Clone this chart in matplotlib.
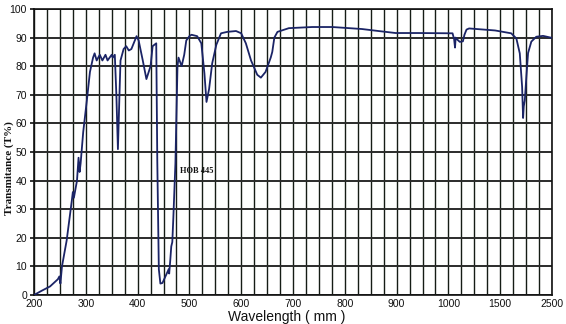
import numpy as np
import matplotlib
matplotlib.use("Agg")
import matplotlib.pyplot as plt
from matplotlib.ticker import FixedLocator, NullFormatter

# Transmittance spectrum of filter glass HOB 445
wavelength = [200, 215, 231, 246, 249, 251, 254, 263, 273, 275, 277, 283,
              286, 288, 290, 295, 302, 308, 314, 317, 321, 327, 332, 338,
              342, 350, 352, 356, 359, 362, 365, 367, 373, 378, 383, 388,
              398, 402, 410, 417, 425, 429, 436, 438, 441, 444, 448, 455,
              460, 461, 463, 465, 467, 469, 473, 477, 479, 485, 490, 494,
              500, 504, 515, 523, 529, 533, 538, 544, 552, 561, 573, 590,
              600, 609, 619, 631, 638, 647, 657, 660, 664, 670, 692, 737,
              776, 833, 865, 898, 942, 1040, 1055, 1064, 1070, 1080, 1110,
              1140, 1155, 1175, 1200, 1450, 1712, 1812, 1878, 1923, 1942,
              1955, 1975, 2004, 2038, 2101, 2197, 2327, 2500]
transmittance = [0.0, 1.5, 3.0, 5.5, 6.5, 4.0, 10.0, 19.0, 33.0, 36.0, 34.0, 40.0,
                 48.0, 43.0, 46.0, 57.0, 68.0, 78.0, 83.0, 84.5, 82.0, 84.0, 82.0, 84.0,
                 82.0, 84.0, 83.0, 84.0, 70.0, 51.0, 70.0, 82.0, 86.0, 87.0, 85.5, 86.0,
                 90.5, 89.0, 82.0, 75.5, 80.0, 87.0, 88.0, 47.0, 9.0, 4.0, 4.2, 7.0,
                 9.0, 7.5, 12.0, 17.0, 18.5, 27.0, 46.0, 80.0, 83.0, 80.0, 84.0, 89.0,
                 90.5, 91.0, 90.5, 88.0, 77.5, 67.5, 72.0, 81.0, 87.5, 91.5, 92.0, 92.3,
                 91.5, 88.0, 82.0, 77.0, 76.0, 78.0, 83.0, 85.0, 90.0, 92.0, 93.3, 93.7,
                 93.7, 93.0, 92.3, 91.6, 91.6, 91.5, 89.5, 86.5, 90.0, 89.5, 88.5,
                 88.7, 91.0, 92.8, 93.2, 92.5, 91.5, 89.7, 84.5, 72.8, 61.9,
                 66.0, 68.0, 76.0, 84.6, 88.6, 90.3, 90.6, 89.9]

tick_values = [200, 300, 400, 500, 600, 700, 800, 900, 1000, 1500, 2500]
tick_labels = ["200", "300", "400", "500", "600", "700", "800", "900", "1000", "1500", "2500"]
y_ticks = [0, 10, 20, 30, 40, 50, 60, 70, 80, 90, 100]

# piecewise-linear wavelength axis: 100 nm steps up to 1000, then 500 and 1000 nm steps
breaks_wl = [200, 1000, 1500, 2500]
breaks_pos = [0, 32, 36, 40]


def fwd(x):
    return np.interp(x, breaks_wl, breaks_pos)


def inv(p):
    return np.interp(p, breaks_pos, breaks_wl)


plt.rcParams['font.family'] = ['Liberation Sans', 'DejaVu Sans']

fig = plt.figure(figsize=(5.66, 3.24), dpi=100)
ax = fig.add_axes([34 / 566, 1 - 295 / 324, (552 - 34) / 566, (295 - 9) / 324])
ax.set_xscale('function', functions=(fwd, inv))
ax.set_xlim(200, 2500)
ax.set_ylim(0, 100)

ax.xaxis.set_major_locator(FixedLocator(tick_values))
ax.set_xticklabels(tick_labels)
ax.xaxis.set_minor_locator(FixedLocator(list(inv(np.arange(0, 41)))))
ax.xaxis.set_minor_formatter(NullFormatter())
ax.set_yticks(y_ticks)

ax.grid(True, which='both', axis='x', color='#151c15', lw=1.0)
ax.grid(True, which='major', axis='y', color='#2b2b2b', lw=1.4)
ax.set_axisbelow(True)

ax.tick_params(axis='x', which='both', length=0, pad=3, labelsize=7.5, colors='#111111')
ax.tick_params(axis='y', which='both', length=3, width=1.2, pad=2, labelsize=7.5, colors='#111111')
for s in ax.spines.values():
    s.set_color('#111111')
    s.set_linewidth(1.2)

ax.plot(wavelength, transmittance, color='#1b2466', lw=1.3, zorder=3)

ax.text(481, 43.5, "HOB 445", family=['Liberation Serif', 'DejaVu Serif'],
        fontweight='bold', fontsize=6, ha='left', va='center', color='#111111')

fig.text(287 / 566, 1 - 317 / 324, "Wavelength ( mm )", ha='center', va='center',
         fontsize=10, color='#111111')
fig.text(9 / 566, 1 - 168 / 324, "Transmitance (T%)", rotation=90, ha='center',
         va='center', family=['Liberation Serif', 'DejaVu Serif'], fontweight='bold',
         fontsize=8, color='#111111')

fig.savefig("out.png", dpi=100)
